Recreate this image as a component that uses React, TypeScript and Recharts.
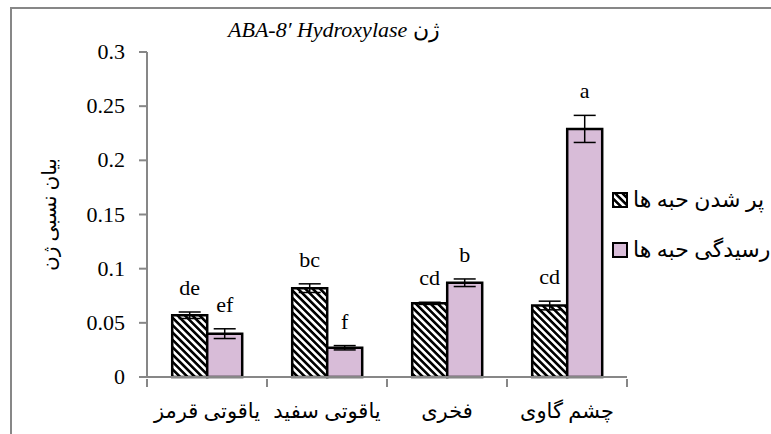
import React from "react";
import {
  BarChart,
  Bar,
  XAxis,
  YAxis,
  ErrorBar,
  LabelList,
  Label,
} from "recharts";

// cultivars, left to right
const categories = ["یاقوتی قرمز", "یاقوتی سفید", "فخری", "چشم گاوی"];

const fillingValues = [0.057, 0.082, 0.068, 0.066];
const fillingErrors = [0.003, 0.004, 0.001, 0.004];
const fillingLetters = ["de", "bc", "cd", "cd"];

const ripeningValues = [0.040, 0.027, 0.087, 0.229];
const ripeningErrors = [0.0045, 0.002, 0.0035, 0.0125];
const ripeningLetters = ["ef", "f", "b", "a"];

const yTicks = [0, 0.05, 0.1, 0.15, 0.2, 0.25, 0.3];

const seriesNames = ["پر شدن حبه ها", "رسیدگی حبه ها"];

const PINK = "#D8BCD8";
const AXIS_GREY = "#878787";
const SERIF = "Liberation Serif, Times New Roman, serif";
const PERSIAN = "Liberation Serif, DejaVu Sans, serif";

const data = categories.map((name, i) => ({
  name,
  filling: fillingValues[i],
  fillingErr: fillingErrors[i],
  ripening: ripeningValues[i],
  ripeningErr: ripeningErrors[i],
}));

// letter sits above the top of the error bar
const makeLetter = (letters: string[], errors: number[]) => (props: any) => {
  const { x, y, width, height, value, index } = props;
  if (value == null) return null;
  const pxPerUnit = height / value;
  const top = y - errors[index] * pxPerUnit;
  return (
    <text
      x={x + width / 2}
      y={top - 17}
      textAnchor="middle"
      fontFamily={SERIF}
      fontSize={22}
      fill="#000"
    >
      {letters[index]}
    </text>
  );
};

const YTick = (props: any) => {
  const { x, y, payload } = props;
  return (
    <text
      x={x}
      y={y}
      dy={7}
      textAnchor="end"
      fontFamily={SERIF}
      fontSize={22}
      fill="#000"
    >
      {payload.value}
    </text>
  );
};

// category label plus the Excel-style tick marks between categories
const CategoryTick = (props: any) => {
  const { x, y, payload, index, width, visibleTicksCount } = props;
  const band = width / visibleTicksCount;
  const isLast = index === visibleTicksCount - 1;
  return (
    <g>
      <line x1={x - band / 2} x2={x - band / 2} y1={y} y2={y + 8} stroke={AXIS_GREY} strokeWidth={2} />
      {isLast && (
        <line x1={x + band / 2} x2={x + band / 2} y1={y} y2={y + 8} stroke={AXIS_GREY} strokeWidth={2} />
      )}
      <text
        x={x}
        y={y + 39}
        textAnchor="middle"
        fontFamily={PERSIAN}
        fontSize={21}
        fill="#000"
      >
        {payload.value}
      </text>
    </g>
  );
};

const LegendBox = () => (
  <div
    style={{
      position: "absolute",
      left: 612,
      top: 175,
      fontFamily: PERSIAN,
      fontSize: 22,
      color: "#000",
    }}
  >
    {seriesNames.map((s, i) => (
      <div key={s} style={{ display: "flex", alignItems: "center", height: 50 }}>
        <svg width={17} height={17} style={{ flex: "none" }}>
          <rect
            x={1}
            y={1}
            width={14}
            height={14}
            fill={i === 0 ? "url(#hatch)" : PINK}
            stroke="#000"
            strokeWidth={2}
          />
        </svg>
        <span style={{ direction: "rtl", marginLeft: 4, whiteSpace: "nowrap" }}>{s}</span>
      </div>
    ))}
  </div>
);

export default function App() {
  return (
    <div
      style={{
        position: "absolute",
        left: 0,
        top: 0,
        width: 771,
        height: 434,
        overflow: "hidden",
        background: "#fff",
      }}
    >
      <div
        style={{
          position: "absolute",
          left: 10,
          top: 7,
          width: 900,
          height: 600,
          borderLeft: `2px solid ${AXIS_GREY}`,
          borderTop: `2px solid ${AXIS_GREY}`,
        }}
      />
      <div
        style={{
          position: "absolute",
          left: 228,
          top: 17,
          fontFamily: SERIF,
          fontSize: 22,
          whiteSpace: "nowrap",
          color: "#000",
        }}
      >
        <i>ABA-8′ Hydroxylase</i> <span>ژن</span>
      </div>
      <BarChart
        width={771}
        height={434}
        data={data}
        margin={{ top: 52, right: 144, bottom: 17, left: 67 }}
        barCategoryGap="21%"
        barGap={0}
        style={{ position: "absolute", left: 0, top: 0 }}
      >
        <defs>
          <pattern
            id="hatch"
            width={5.2}
            height={5.2}
            patternUnits="userSpaceOnUse"
            patternTransform="rotate(-45)"
          >
            <rect width={5.2} height={5.2} fill="#fff" />
            <rect width={2.6} height={5.2} fill="#000" />
          </pattern>
        </defs>
        <XAxis
          dataKey="name"
          height={40}
          tickLine={false}
          tickSize={0}
          axisLine={{ stroke: AXIS_GREY, strokeWidth: 2 }}
          tick={<CategoryTick />}
          interval={0}
        />
        <YAxis
          width={80}
          domain={[0, 0.3]}
          ticks={yTicks}
          tickSize={8}
          tickMargin={14}
          axisLine={{ stroke: AXIS_GREY, strokeWidth: 2 }}
          tickLine={{ stroke: AXIS_GREY, strokeWidth: 2 }}
          tick={<YTick />}
        >
          <Label
            content={({ viewBox }: any) => {
              const cx = viewBox.x - 18;
              const cy = viewBox.y + viewBox.height / 2;
              return (
                <text
                  x={cx}
                  y={cy}
                  transform={`rotate(-90 ${cx} ${cy})`}
                  textAnchor="middle"
                  dominantBaseline="central"
                  fontFamily={PERSIAN}
                  fontSize={20}
                  fill="#000"
                >
                  بیان نسبی ژن
                </text>
              );
            }}
          />
        </YAxis>
        <Bar
          dataKey="filling"
          name={seriesNames[0]}
          fill="url(#hatch)"
          stroke="#000"
          strokeWidth={2.5}
          isAnimationActive={false}
        >
          <ErrorBar dataKey="fillingErr" width={11} stroke="#000" strokeWidth={1.5} />
          <LabelList dataKey="filling" content={makeLetter(fillingLetters, fillingErrors)} />
        </Bar>
        <Bar
          dataKey="ripening"
          name={seriesNames[1]}
          fill={PINK}
          stroke="#000"
          strokeWidth={2.5}
          isAnimationActive={false}
        >
          <ErrorBar dataKey="ripeningErr" width={11} stroke="#000" strokeWidth={1.5} />
          <LabelList dataKey="ripening" content={makeLetter(ripeningLetters, ripeningErrors)} />
        </Bar>
      </BarChart>
      <LegendBox />
    </div>
  );
}
